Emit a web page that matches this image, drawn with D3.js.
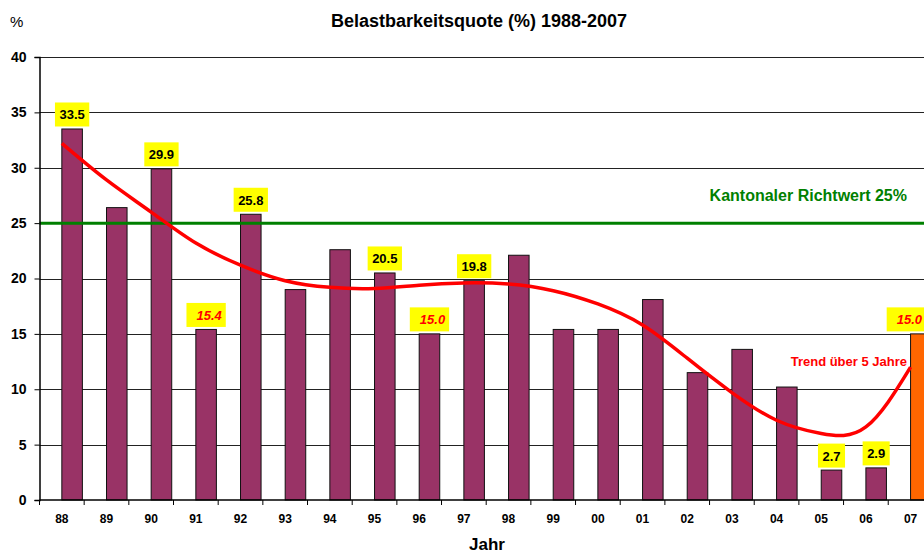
<!DOCTYPE html>
<html>
<head>
<meta charset="utf-8">
<script src="https://cdn.jsdelivr.net/npm/d3@7"></script>
<style>
  body { margin: 0; background: #fff; }
  text { font-family: "Liberation Sans", Arial, sans-serif; }
</style>
</head>
<body>
<div id="chart"></div>
<script>
// years (category labels)
var years = ["88", "89", "90", "91", "92", "93", "94", "95", "96", "97",
             "98", "99", "00", "01", "02", "03", "04", "05", "06", "07"]
// Belastbarkeitsquote per year (07 is drawn as its own orange series)
var quote = [33.5, 26.4, 29.9, 15.4, 25.8, 19.0, 22.6, 20.5, 15.0, 19.8,
             22.1, 15.4, 15.4, 18.1, 11.5, 13.6, 10.2, 2.7, 2.9, 15.0]
// trend curve
var trend = [32.2, 28.9, 26.0, 23.2, 21.2, 19.8, 19.2, 19.1, 19.4, 19.6,
             19.5, 18.9, 17.7, 15.8, 12.8, 9.7, 7.2, 6.0, 6.6, 12.0]
var highlightYear = "07"
var labelYears = ["88", "90", "91", "92", "95", "96", "97", "05", "06", "07"]
var redLabelYears = ["91", "96", "07"]
var yTicks = [0, 5, 10, 15, 20, 25, 30, 35, 40]
var richtwert = 25

var dimensions = {
    width: 924,
    height: 555,
    margin: { top: 57, bottom: 55, left: 39.5, right: 0 }
}
var step = 44.67

var svg = d3.select("#chart")
    .append("svg")
    .attr("width", dimensions.width)
    .attr("height", dimensions.height)

var x = d3.scaleBand()
    .domain(years)
    .range([dimensions.margin.left, dimensions.margin.left + step * years.length])
    .padding(0)

var y = d3.scaleLinear()
    .domain([0, 40])
    .range([dimensions.height - dimensions.margin.bottom, dimensions.margin.top])

var bw = x.bandwidth()
var barW = bw * 0.46

// grid lines
svg.append("g")
    .selectAll("line")
    .data(yTicks.slice(1))
    .enter().append("line")
    .attr("x1", dimensions.margin.left)
    .attr("x2", dimensions.width)
    .attr("y1", function (d) { return Math.round(y(d)) + 0.5 })
    .attr("y2", function (d) { return Math.round(y(d)) + 0.5 })
    .attr("stroke", "#222")
    .attr("stroke-width", 1)

// bars
var data = years.map(function (d, i) { return { year: d, value: quote[i], trend: trend[i] } })

svg.append("g")
    .selectAll("rect")
    .data(data)
    .enter().append("rect")
    .attr("x", function (d) { return x(d.year) + bw / 2 })
    .attr("y", function (d) { return y(d.value) })
    .attr("width", barW)
    .attr("height", function (d) { return y(0) - y(d.value) })
    .attr("fill", function (d) { return d.year == highlightYear ? "#ff6600" : "#993366" })
    .attr("stroke", "#111")
    .attr("stroke-width", 1)

// green reference line
svg.append("line")
    .attr("x1", dimensions.margin.left)
    .attr("x2", dimensions.width)
    .attr("y1", y(richtwert))
    .attr("y2", y(richtwert))
    .attr("stroke", "#008000")
    .attr("stroke-width", 3)

svg.append("text")
    .attr("x", 907)
    .attr("y", 201)
    .attr("text-anchor", "end")
    .attr("font-size", "16px")
    .attr("font-weight", "bold")
    .attr("fill", "#008000")
    .text("Kantonaler Richtwert " + richtwert + "%")

// trend line
var line = d3.line()
    .x(function (d) { return x(d.year) + bw / 2 })
    .y(function (d) { return y(d.trend) })
    .curve(d3.curveNatural)

svg.append("path")
    .datum(data)
    .attr("d", line)
    .attr("fill", "none")
    .attr("stroke", "#ff0000")
    .attr("stroke-width", 3.5)

svg.append("text")
    .attr("x", 907)
    .attr("y", 366)
    .attr("text-anchor", "end")
    .attr("font-size", "13px")
    .attr("font-weight", "bold")
    .attr("fill", "#ff0000")
    .text("Trend über 5 Jahre")

// axes
var xAxis = svg.append("g")
    .attr("transform", "translate(0," + y(0) + ")")
    .call(d3.axisBottom(x).tickSize(0).tickPadding(14))
xAxis.select(".domain").remove()
xAxis.selectAll("text")
    .attr("font-size", "12px")
    .attr("font-weight", "bold")
    .attr("fill", "#000")
    .attr("font-family", "Liberation Sans, Arial, sans-serif")

// tick marks on category boundaries
svg.append("g")
    .selectAll("line")
    .data(years)
    .enter().append("line")
    .attr("x1", function (d) { return x(d) })
    .attr("x2", function (d) { return x(d) })
    .attr("y1", y(0))
    .attr("y2", y(0) + 5)
    .attr("stroke", "#000")

svg.append("line")
    .attr("x1", dimensions.margin.left)
    .attr("x2", dimensions.width)
    .attr("y1", y(0))
    .attr("y2", y(0))
    .attr("stroke", "#000")
    .attr("stroke-width", 1.5)

var yAxis = svg.append("g")
    .attr("transform", "translate(" + dimensions.margin.left + ",0)")
    .call(d3.axisLeft(y).tickValues(yTicks).tickSize(5).tickPadding(8))
yAxis.select(".domain").attr("stroke", "#000").attr("stroke-width", 1.5)
yAxis.selectAll("text")
    .attr("font-size", "14px")
    .attr("font-weight", "bold")
    .attr("fill", "#000")
    .attr("font-family", "Liberation Sans, Arial, sans-serif")

// value labels with yellow boxes
var labels = svg.append("g")
    .selectAll("g")
    .data(data.filter(function (d) { return labelYears.indexOf(d.year) >= 0 }))
    .enter().append("g")

labels.each(function (d) {
    var g = d3.select(this)
    var red = redLabelYears.indexOf(d.year) >= 0
    var cx = x(d.year) + bw / 2 + barW / 2
    var t = g.append("text")
        .attr("font-size", "13px")
        .attr("font-weight", "bold")
        .attr("font-style", red ? "italic" : "normal")
        .attr("fill", red ? "#ff0000" : "#000")
        .attr("text-anchor", "middle")
        .text(d.value.toFixed(1))
    var tw = t.node().getComputedTextLength()
    var boxW = red ? tw + 14 : tw + 9
    var boxX = cx - boxW / 2
    // keep the label inside the chart, like the spreadsheet does
    if (boxX + boxW > dimensions.width + 2) boxX = dimensions.width + 2 - boxW
    var boxBottom = y(d.value) - 2.5
    g.insert("rect", "text")
        .attr("x", boxX)
        .attr("y", boxBottom - 24)
        .attr("width", boxW)
        .attr("height", 24)
        .attr("fill", "#ffff00")
    t.attr("x", boxX + boxW / 2 + (red ? 3 : 0))
        .attr("y", boxBottom - 7)
})

// titles
svg.append("text")
    .attr("x", 479)
    .attr("y", 27)
    .attr("text-anchor", "middle")
    .attr("font-size", "18px")
    .attr("font-weight", "bold")
    .text("Belastbarkeitsquote (%) 1988-2007")

svg.append("text")
    .attr("x", 10)
    .attr("y", 27)
    .attr("font-size", "15px")
    .text("%")

svg.append("text")
    .attr("x", 487)
    .attr("y", 550)
    .attr("text-anchor", "middle")
    .attr("font-size", "17px")
    .attr("font-weight", "bold")
    .text("Jahr")
</script>
</body>
</html>
